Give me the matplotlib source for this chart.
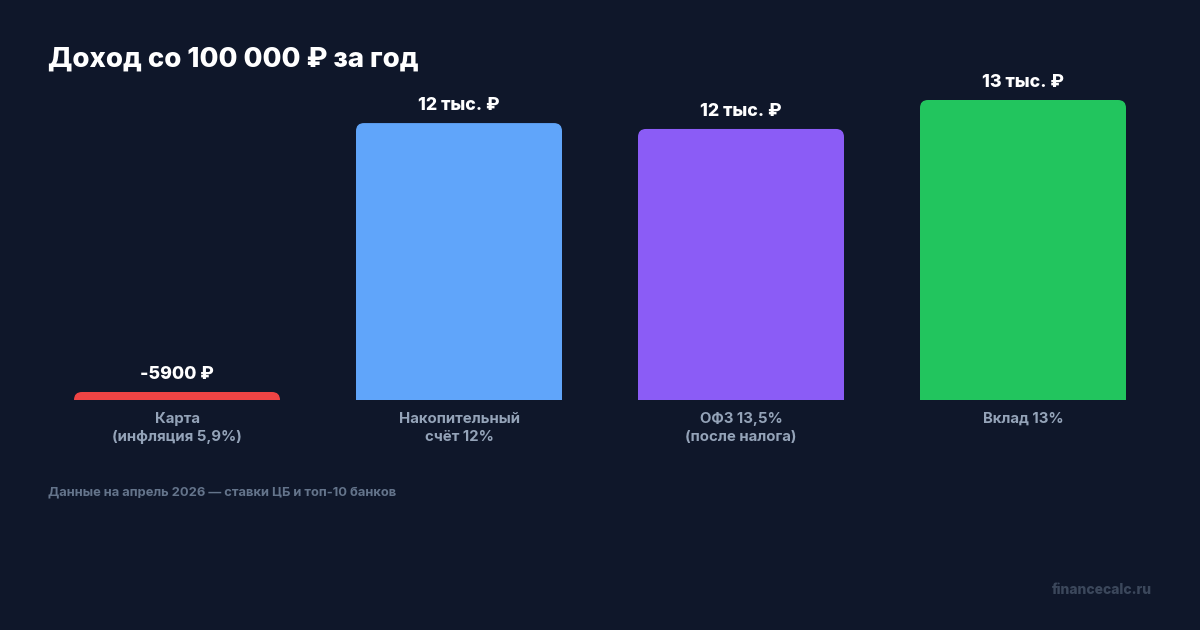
import matplotlib
matplotlib.use("Agg")
import matplotlib.pyplot as plt
from matplotlib.path import Path
from matplotlib.patches import PathPatch

plt.rcParams["font.family"] = ["Inter", "DejaVu Sans"]

# data
categories = ["Карта\n(инфляция 5,9%)", "Накопительный\nсчёт 12%", "ОФЗ 13,5%\n(после налога)", "Вклад 13%"]
values = [-5900, 12000, 11745, 13000]
value_labels = ["-5900 ₽", "12 тыс. ₽", "12 тыс. ₽", "13 тыс. ₽"]
colors = ["#ef4444", "#60a5fa", "#8b5cf6", "#22c55e"]

BG = "#0f172a"
W, H = 1200, 630

fig = plt.figure(figsize=(12, 6.3), dpi=100, facecolor=BG)

# axes placed in pixels: baseline at y=400, 13000 -> 300 px
px_per_unit = 300 / 13000
ymax = 14000
ax_h = ymax * px_per_unit
ax = fig.add_axes([36 / W, (H - 400) / H, 1128 / W, ax_h / H])
ax.set_facecolor(BG)
ax.set_xlim(-0.5, 3.5)
ax.set_ylim(0, ymax)
ax.axis("off")

bar_w = 206 / 282
radius_px = 8
min_h = 8 / px_per_unit  # negative bar still shown as a thin strip


def top_rounded_bar(x0, w, h, color):
    rx = radius_px / 282
    ry = min(radius_px / px_per_unit, h)
    x1 = x0 + w
    verts = [
        (x0, 0), (x0, h - ry), (x0, h), (x0 + rx, h),
        (x1 - rx, h), (x1, h), (x1, h - ry), (x1, 0), (x0, 0),
    ]
    codes = [
        Path.MOVETO, Path.LINETO, Path.CURVE3, Path.CURVE3,
        Path.LINETO, Path.CURVE3, Path.CURVE3, Path.LINETO, Path.CLOSEPOLY,
    ]
    ax.add_patch(PathPatch(Path(verts, codes), facecolor=color, edgecolor="none"))


for i, (v, lab, c) in enumerate(zip(values, value_labels, colors)):
    h = max(v, min_h)
    top_rounded_bar(i - bar_w / 2, bar_w, h, c)
    ax.annotate(lab, (i, h), xytext=(0, 9), textcoords="offset pixels",
                ha="center", va="bottom", color="white", fontsize=12.8,
                fontweight="heavy")
    ax.annotate(categories[i], (i, 0), xytext=(0, -12), textcoords="offset pixels",
                ha="center", va="top", color="#94a3b8", fontsize=10.75,
                fontweight="bold", linespacing=1.4)

fig.text(48 / W, 1 - 67 / H, "Доход со 100 000 ₽ за год", color="white",
         fontsize=19.8, fontweight="heavy", ha="left", va="baseline")
fig.text(48 / W, 1 - 492 / H, "Данные на апрель 2026 — ставки ЦБ и топ-10 банков",
         color="#64748b", fontsize=9.3, fontweight="bold", ha="left", va="center")
fig.text(1152 / W, 1 - 590 / H, "financecalc.ru", color="#3b475b",
         fontsize=10, fontweight="heavy", ha="right", va="center")

fig.savefig("out.png", dpi=100, facecolor=BG)
